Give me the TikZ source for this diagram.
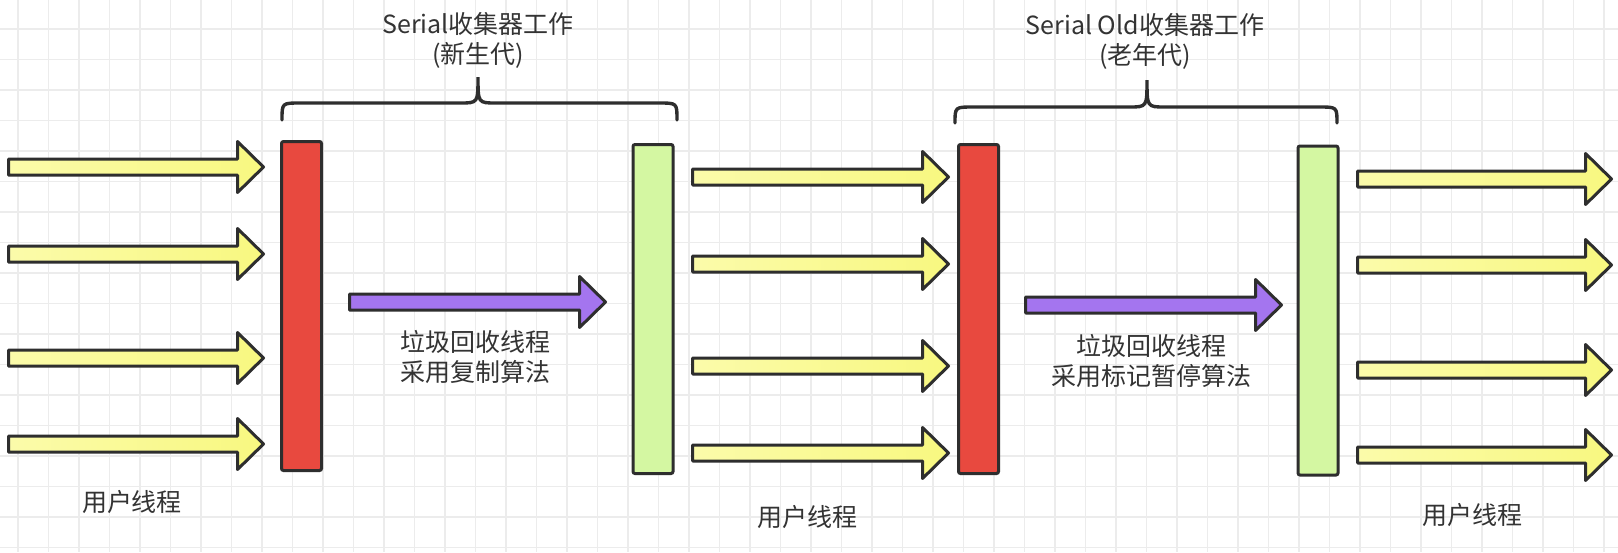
\documentclass[tikz,border=0pt]{standalone}
\usepackage{fontspec}
\setmainfont{Noto Sans CJK SC}
\usepackage{tikz}
\usetikzlibrary{positioning}
\definecolor{lineGrey}{HTML}{2E2E2E}
\definecolor{textGrey}{HTML}{333333}
\definecolor{gridGrey}{HTML}{ECECEC}
\definecolor{barRed}{HTML}{E8493F}
\definecolor{barGreen}{HTML}{D4F7A2}
\definecolor{yellowL}{HTML}{FBFBAA}
\definecolor{yellowR}{HTML}{F8F880}
\definecolor{gcPurple}{HTML}{A475EF}
\tikzstyle{gridLine} = [gridGrey, line width=0.75pt]
\tikzstyle{bar} = [rectangle, draw=lineGrey, line width=1.5pt, rounded corners=1pt, minimum width=20pt, minimum height=164.5pt, inner sep=0pt]
\tikzstyle{redBar} = [bar, fill=barRed]
\tikzstyle{greenBar} = [bar, fill=barGreen]
\tikzstyle{fat} = [draw=lineGrey, line width=1.5pt, line join=round]
\tikzstyle{userArrow} = [fat, left color=yellowL, right color=yellowR]
\tikzstyle{gcArrow} = [fat, fill=gcPurple]
\tikzstyle{brace} = [draw=lineGrey, line width=1.7pt, line cap=round]
\tikzstyle{txt} = [text=textGrey, align=center, inner sep=0pt, font=\fontsize{12.5}{15}\selectfont]
\newcommand{\fatArrow}[4]{\draw[#4] (#1,#3-8) -- (#2-26,#3-8) -- (#2-26,#3-25.5) -- (#2,#3) -- (#2-26,#3+25.5) -- (#2-26,#3+8) -- (#1,#3+8) -- cycle;}

\begin{document}
\begin{tikzpicture}[x=0.5pt,y=-0.5pt]
    \fill[white] (0,0) rectangle (1618,552);
    \useasboundingbox (0,0) rectangle (1618,552);
    \foreach \i in {0,...,52} \draw[gridLine] (18+30.5*\i,0) -- (18+30.5*\i,552);
    \foreach \j in {0,...,17} \draw[gridLine] (0,29+30.5*\j) -- (1618,29+30.5*\j);

    \node (r1) [redBar] at (301.5,306) {};
    \node (g1) [greenBar] at (653,309) {};
    \node (r2) [redBar] at (978.5,309) {};
    \node (g2) [greenBar] at (1318,310.5) {};

    \foreach \y in {167,254,358,444} {\fatArrow{8.5}{263.5}{\y}{userArrow}}
    \foreach \y in {177,264,366,453} {\fatArrow{692.5}{948.5}{\y}{userArrow}}
    \foreach \y in {179,265,370,455} {\fatArrow{1357.5}{1611.5}{\y}{userArrow}}
    \fatArrow{349.5}{605.5}{302}{gcArrow}
    \fatArrow{1025.5}{1281.5}{305}{gcArrow}

    \draw[brace] (282,120) .. controls (282,103) .. (300,103) -- (460,103) .. controls (478,103) .. (478,77)
        .. controls (478,103) .. (496,103) -- (659,103) .. controls (677,103) .. (677,120);
    \draw[brace] (955,123) .. controls (955,107) .. (973,107) -- (1129,107) .. controls (1147,107) .. (1147,80)
        .. controls (1147,107) .. (1165,107) -- (1319,107) .. controls (1337,107) .. (1337,123);

    \node (t1) [txt] at (478,40) {Serial收集器工作\\(新生代)};
    \node (t2) [txt] at (1145,41) {Serial Old收集器工作\\(老年代)};
    \node (gc1) [txt] at (475,357) {垃圾回收线程\\采用复制算法};
    \node (gc2) [txt] at (1151,361) {垃圾回收线程\\采用标记暂停算法};
    \node (u1) [txt] at (132,502) {用户线程};
    \node (u2) [txt] at (807,517) {用户线程};
    \node (u3) [txt] at (1472,515) {用户线程};
\end{tikzpicture}
\end{document}
